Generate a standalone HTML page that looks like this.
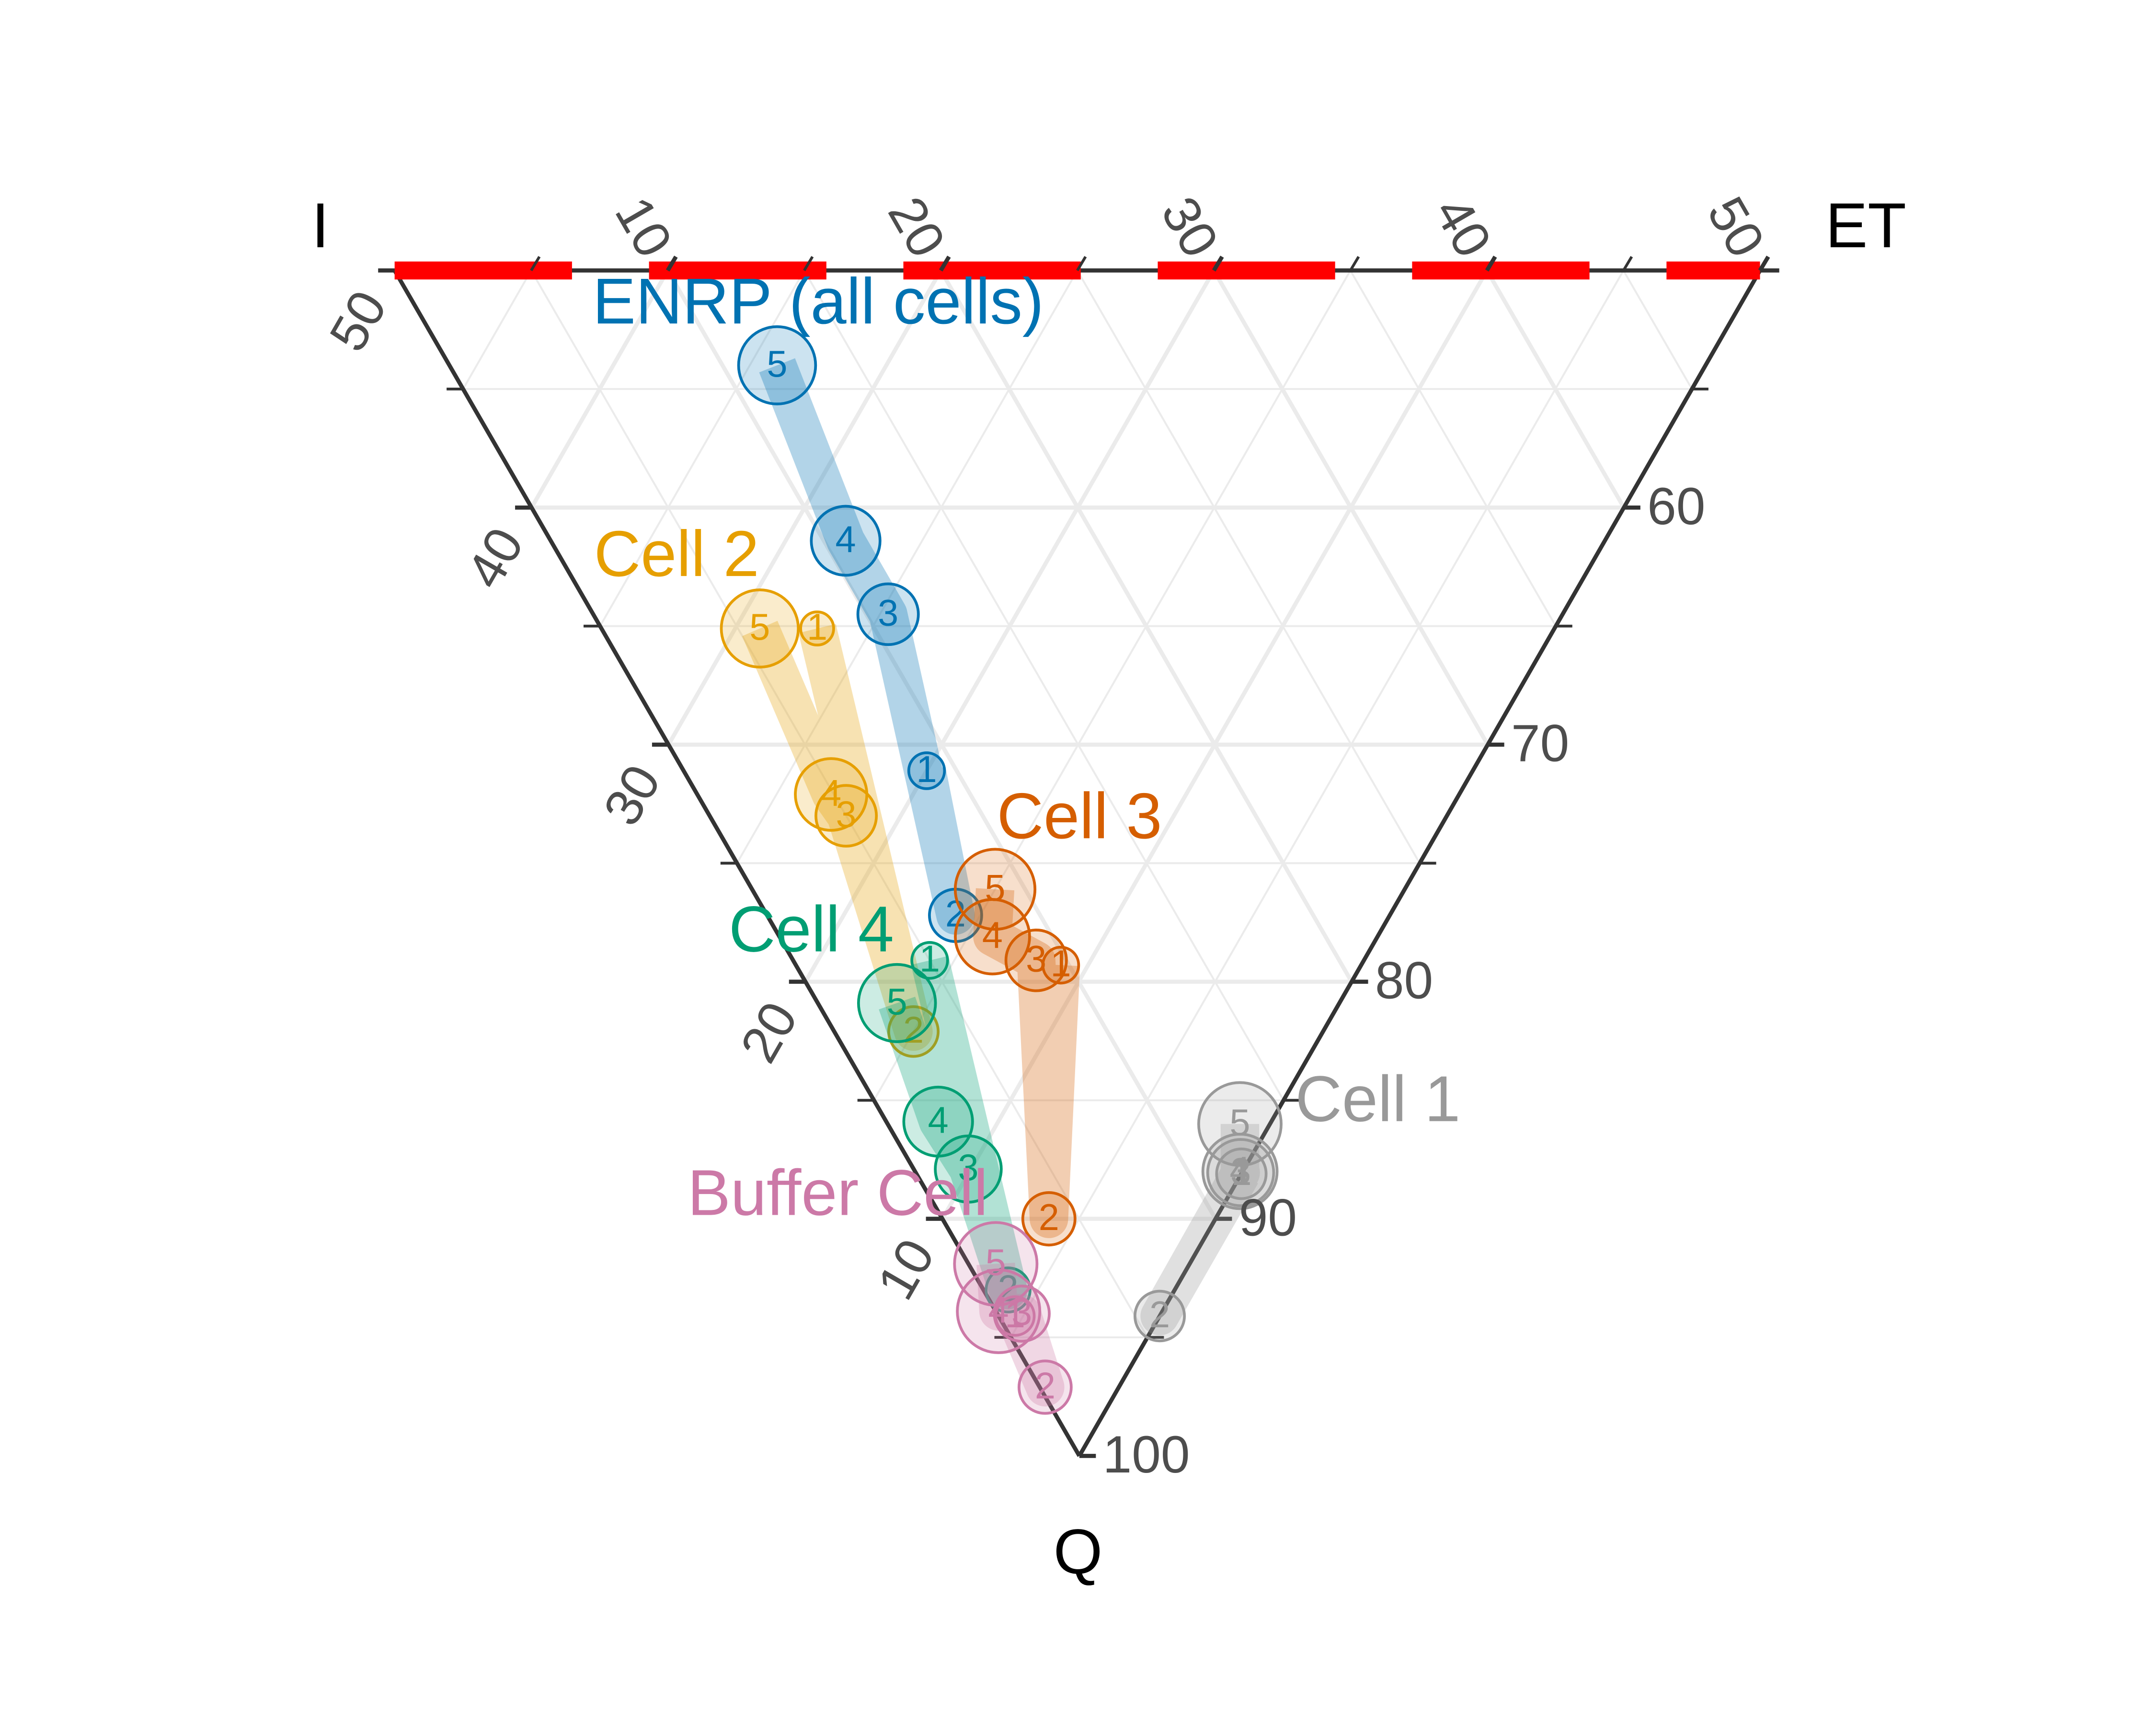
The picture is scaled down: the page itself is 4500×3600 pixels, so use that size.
<!DOCTYPE html>
<html><head><meta charset="utf-8"><style>
html,body{margin:0;padding:0;background:#fff;}
svg{display:block;font-family:"Liberation Sans",Arial,sans-serif;}
</style></head><body>
<svg id="chart" width="4500" height="3600" viewBox="0 0 1568 1250" preserveAspectRatio="none" xmlns="http://www.w3.org/2000/svg">
<rect width="1568" height="1250" fill="#fff"/>
<g id="grid"></g>
<g id="axes"></g>
<g id="series"></g>
<g id="labels"></g>
</svg>
<script>
// Data (I, ET in percent; Q = 100 - I - ET)
const seriesNames = ["ENRP (all cells)","Cell 2","Cell 3","Cell 4","Buffer Cell","Cell 1"];
const seriesColors = ["#0072B2","#E69F00","#D55E00","#009E73","#CC79A7","#999999"];
const stepLabels = ["1","2","3","4","5"];
const enrpI  = [20.0, 15.9, 24.7, 27.8, 34.0];
const enrpET = [8.9, 6.9, 10.8, 10.8, 12.0];
const enrpSize = [13, 19, 22, 25, 28];
const cell2I  = [27.0, 15.0, 22.0, 23.0, 29.1];
const cell2ET = [7.9, 2.9, 5.0, 4.9, 5.8];
const cell2Size = [12, 18, 22, 26, 28];
const cell3I  = [11.0, 6.1, 12.0, 14.1, 15.0];
const cell3ET = [9.7, 3.9, 8.9, 7.8, 8.9];
const cell3Size = [13, 19, 22, 27, 29];
const cell4I  = [15.9, 6.1, 10.1, 12.2, 16.2];
const cell4ET = [5.0, 0.9, 2.0, 1.9, 2.9];
const cell4Size = [13, 16, 24, 25, 28];
const bufI  = [5.3, 2.7, 5.1, 6.0, 7.1];
const bufET = [0.6, 0.2, 0.9, 0.1, 1.0];
const bufSize = [14, 19, 20, 30, 30];
const cell1I  = [0.0, 0.0, 0.05, 0.1, 1.1];
const cell1ET = [11.9, 5.9, 11.9, 11.9, 12.9];
const cell1Size = [18, 18, 24, 27, 30];
const gridValues = [5,10,15,20,25,30,35,40,45];
const etTicks = ["10","20","30","40","50"];
const iTicks = ["50","40","30","20","10"];
const qTicks = ["60","70","80","90","100"];

const allI = [enrpI, cell2I, cell3I, cell4I, bufI, cell1I];
const allET = [enrpET, cell2ET, cell3ET, cell4ET, bufET, cell1ET];
const allSize = [enrpSize, cell2Size, cell3Size, cell4Size, bufSize, cell1Size];

const NS = "http://www.w3.org/2000/svg";
const A = [287,196], B = [1280,196], C = [785,1055];
function proj(I, ET){
  const a = I/50, b = ET/50, c = 1 - a - b;
  return [A[0]*a + B[0]*b + C[0]*c, A[1]*a + B[1]*b + C[1]*c];
}
function mk(tag, attrs, parent){
  const e = document.createElementNS(NS, tag);
  for (const k in attrs) e.setAttribute(k, attrs[k]);
  parent.appendChild(e); return e;
}
const grid = document.getElementById('grid'), axes = document.getElementById('axes'),
      ser = document.getElementById('series'), lab = document.getElementById('labels');

gridValues.forEach(v => {
  const major = v % 10 === 0;
  const w = major ? 3 : 1.4;
  const s = 50 - v;
  let p1 = proj(s,0), p2 = proj(0,s);
  let l = mk('line',{x1:p1[0],y1:p1[1],x2:p2[0],y2:p2[1],stroke:'#ebebeb','stroke-width':w},grid);
  
  
  const e1 = proj(50-v, v), e2 = proj(0, v);
  l = mk('line',{x1:e1[0],y1:e1[1],x2:e2[0],y2:e2[1],stroke:'#ebebeb','stroke-width':w},grid);
  
  
  const f1 = proj(v, 50-v), f2 = proj(v, 0);
  l = mk('line',{x1:f1[0],y1:f1[1],x2:f2[0],y2:f2[1],stroke:'#ebebeb','stroke-width':w},grid);
  
  
});

let edge = mk('line',{x1:A[0],y1:A[1],x2:C[0],y2:C[1],stroke:'#333','stroke-width':3},axes);


edge = mk('line',{x1:B[0],y1:B[1],x2:C[0],y2:C[1],stroke:'#333','stroke-width':3},axes);


edge = mk('line',{x1:A[0],y1:A[1],x2:B[0]+14,y2:B[1],stroke:'#333','stroke-width':3},axes);


const red = mk('line',{x1:287,y1:196,x2:1280,y2:196,stroke:'#ff0000','stroke-width':13,'stroke-dasharray':'129 56'},axes);



const tick = (x1,y1,x2,y2,w) => { const t = mk('line',{x1,y1,x2,y2,stroke:'#333','stroke-width':w},axes);
    };
for (let k=1;k<=10;k++){
  const v = k*5, w = k%2===0 ? 3 : 2;
  const pt = proj(50-v, v); tick(pt[0],pt[1],pt[0]+6,pt[1]-10,w);
  const pl = proj(v,0); tick(pl[0],pl[1],pl[0]-12,pl[1],w);
  const pq = proj(0, 50-v); tick(pq[0],pq[1],pq[0]+12,pq[1],w);
}
etTicks.forEach((t,i) => {
  const v = (i+1)*10; const p = proj(50-v, v);
  const e = mk('text',{x:p[0]-20,y:p[1]-30,'font-size':38,fill:'#4d4d4d','text-anchor':'middle','dominant-baseline':'middle',transform:`rotate(60 ${p[0]-20} ${p[1]-30})`},lab);
  e.textContent = t;
  
  
});
iTicks.forEach((t,i) => {
  const v = 50 - i*10; const p = proj(v, 0);
  const e = mk('text',{x:p[0]-24,y:p[1]+38,'font-size':38,fill:'#4d4d4d','text-anchor':'middle','dominant-baseline':'middle',transform:`rotate(-60 ${p[0]-24} ${p[1]+38})`},lab);
  e.textContent = t;
  
  
});
qTicks.forEach((t,i) => {
  const v = 10 + i*10; const p = proj(0, 50-v);
  const e = mk('text',{x:p[0]+17,y:p[1]+2,'font-size':38,fill:'#4d4d4d','dominant-baseline':'middle'},lab);
  e.textContent = t;
  
  
});
[["I",233,167,"i-axis-title"],["ET",1357,167,"et-axis-title"],["Q",784,1128,"q-axis-title"]].forEach(d => {
  const e = mk('text',{x:d[1],y:d[2],'font-size':46,fill:'#000','text-anchor':'middle','dominant-baseline':'middle'},lab);
  e.textContent = d[0];
  
  
});

const seriesLabelPos = [[431,222],[432,405],[725,595],[530,677],[500,868],[942,800]];
allI.forEach((Is,si) => {
  const col = seriesColors[si];
  const g = mk('g',{},ser);
  
  
  const pts = Is.map((v,j) => proj(v, allET[si][j]));
  const band = mk('polyline',{points:pts.map(p=>p.join(',')).join(' '),fill:'none',stroke:col,'stroke-opacity':0.3,'stroke-width':28,'stroke-linejoin':'round'},g);
  
  
  pts.forEach((p,j) => {
    const r = allSize[si][j];
    const c = mk('circle',{cx:p[0],cy:p[1],r:r,fill:col,'fill-opacity':0.2,stroke:col,'stroke-width':2},g);
    
    
    const t = mk('text',{x:p[0],y:p[1]+1,'font-size':27,fill:col,'text-anchor':'middle','dominant-baseline':'middle'},g);
    t.textContent = stepLabels[j];
    
    
  });
  const lp = seriesLabelPos[si];
  const t = mk('text',{x:lp[0],y:lp[1],'font-size':47,fill:col,'dominant-baseline':'middle'},lab);
  t.textContent = seriesNames[si];
  
  
});
</script>
</body></html>
